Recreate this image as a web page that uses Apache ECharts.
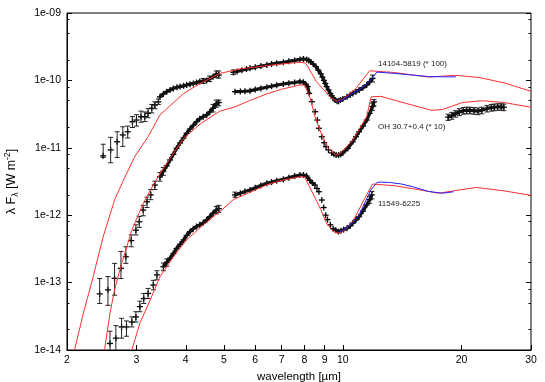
<!DOCTYPE html>
<html>
<head>
<meta charset="utf-8">
<script src="https://cdn.jsdelivr.net/npm/echarts@6/dist/echarts.min.js"></script>
<style>
html,body{margin:0;padding:0;background:#fff}
#chart{width:545px;height:382px}
</style>
</head>
<body>
<div id="chart"></div>
<script>
// axis ticks
const xTicks = [2, 3, 4, 5, 6, 7, 8, 9, 10, 20, 30];
const yDecades = [1e-14, 1e-13, 1e-12, 1e-11, 1e-10, 1e-9];
const yMinorSteps = [2, 5, 8];

// 14104-5819 (* 100)   points: [wavelength, flux, low, high]
const aBars = [
  [2.47, 7.6e-12, 7.2e-12, 1.13e-11], [2.58, 9.3e-12, 6.0e-12, 1.43e-11],
  [2.68, 1.23e-11, 7.2e-12, 1.73e-11], [2.77, 1.55e-11, 1.05e-11, 2.05e-11],
  [2.85, 1.73e-11, 1.4e-11, 2.1e-11], [2.93, 2.44e-11, 2.0e-11, 2.9e-11],
  [3.0, 2.58e-11, 2.1e-11, 3.1e-11], [3.08, 2.89e-11, 2.4e-11, 3.5e-11],
  [3.15, 2.9e-11, 2.45e-11, 3.4e-11], [3.21, 3.25e-11, 2.8e-11, 3.8e-11],
  [3.28, 3.86e-11, 3.3e-11, 4.4e-11], [3.34, 4.3e-11, 3.8e-11, 4.8e-11],
  [3.41, 4.8e-11, 4.4e-11, 5.3e-11]
];
const aBand1 = [
  [3.44, 5.7e-11], [3.51, 6.3e-11], [3.58, 6.8e-11], [3.65, 7.2e-11], [3.72, 7.6e-11],
  [3.8, 7.9e-11], [3.87, 8.1e-11], [3.95, 8.3e-11], [4.02, 8.55e-11], [4.1, 8.8e-11],
  [4.18, 9.0e-11], [4.26, 9.3e-11], [4.34, 9.6e-11], [4.43, 9.8e-11, 9.0e-11, 1.07e-10],
  [4.52, 1.0e-10], [4.6, 1.06e-10, 9.6e-11, 1.16e-10], [4.69, 1.13e-10],
  [4.78, 1.24e-10, 1.1e-10, 1.38e-10], [4.85, 1.2e-10, 1.08e-10, 1.38e-10]
];
const aBand2 = [
  [5.28, 1.32e-10, 1.22e-10, 1.42e-10], [5.4, 1.36e-10], [5.55, 1.42e-10], [5.7, 1.47e-10],
  [5.82, 1.51e-10], [6.0, 1.57e-10], [6.2, 1.63e-10], [6.42, 1.69e-10], [6.6, 1.75e-10],
  [6.8, 1.8e-10], [7.07, 1.86e-10], [7.3, 1.92e-10], [7.55, 1.98e-10], [7.79, 2.05e-10],
  [7.95, 2.08e-10], [8.1, 2.05e-10], [8.2, 1.98e-10], [8.3, 1.88e-10], [8.42, 1.75e-10],
  [8.55, 1.6e-10], [8.67, 1.42e-10], [8.8, 1.25e-10], [8.88, 1.12e-10], [8.96, 1.0e-10],
  [9.03, 9.0e-11], [9.1, 8.1e-11], [9.2, 7.2e-11], [9.3, 6.4e-11], [9.38, 5.9e-11],
  [9.47, 5.4e-11], [9.57, 5.1e-11], [9.67, 4.9e-11], [9.76, 4.9e-11], [9.86, 5.1e-11],
  [10.0, 5.3e-11], [10.25, 5.7e-11], [10.45, 6.1e-11], [10.6, 6.4e-11], [10.8, 6.8e-11],
  [11.0, 7.2e-11], [11.25, 7.8e-11], [11.5, 8.55e-11], [11.7, 9.5e-11],
  [11.9, 1.07e-10, 9.5e-11, 1.2e-10]
];
const aModel = [
  [2.09, 1.0e-14], [2.2, 3.5e-14], [2.33, 1.22e-13], [2.47, 4.8e-13], [2.64, 1.68e-12],
  [2.78, 3.3e-12], [2.97, 7.4e-12], [3.21, 1.46e-11], [3.44, 3.07e-11], [3.95, 6.4e-11],
  [4.35, 9.0e-11], [4.88, 1.27e-10], [5.5, 1.48e-10], [6.4, 1.65e-10], [7.0, 1.75e-10],
  [7.8, 1.86e-10], [8.05, 1.8e-10], [8.25, 1.43e-10], [8.57, 9.6e-11], [8.96, 7.2e-11],
  [9.3, 5.6e-11], [9.67, 4.9e-11], [10.0, 5.3e-11], [10.8, 7.6e-11], [11.7, 1.39e-10],
  [13.5, 1.31e-10], [16.5, 1.12e-10], [19.35, 1.19e-10], [22.25, 1.1e-10],
  [25.6, 9.2e-11], [30, 6.9e-11]
];
const aBlue = [
  [9.7, 4.8e-11], [10.0, 5.2e-11], [10.5, 6.2e-11], [11.0, 7.3e-11], [11.5, 8.8e-11],
  [11.9, 1.1e-10], [12.2, 1.33e-10], [13.5, 1.27e-10], [15.0, 1.2e-10], [16.5, 1.14e-10],
  [18.0, 1.13e-10], [19.35, 1.13e-10]
];

// OH 30.7+0.4 (* 10)
const bBars = [
  [2.42, 6.8e-14, 4.9e-14, 1.15e-13], [2.54, 7.8e-14, 4.6e-14, 1.23e-13],
  [2.64, 1.16e-13, 6.5e-14, 1.93e-13], [2.74, 1.63e-13, 1.15e-13, 2.9e-13],
  [2.82, 2.42e-13, 1.93e-13, 3.4e-13], [2.91, 4.2e-13, 3.4e-13, 5.1e-13],
  [2.99, 6.0e-13, 5.1e-13, 7.2e-13], [3.05, 8.0e-13, 6.6e-13, 9.6e-13],
  [3.12, 1.19e-12, 9.8e-13, 1.4e-12], [3.19, 1.58e-12, 1.3e-12, 1.85e-12],
  [3.26, 2.0e-12, 1.7e-12, 2.4e-12], [3.34, 2.8e-12, 2.4e-12, 3.2e-12]
];
const bBand1 = [
  [3.44, 3.7e-12, 3.2e-12, 4.3e-12], [3.51, 4.5e-12, 3.9e-12, 5.1e-12], [3.58, 5.4e-12],
  [3.65, 6.6e-12], [3.72, 8.0e-12], [3.79, 9.8e-12], [3.87, 1.18e-11], [3.95, 1.4e-11],
  [4.02, 1.64e-11], [4.1, 1.9e-11], [4.18, 2.15e-11], [4.26, 2.44e-11], [4.34, 2.7e-11],
  [4.43, 2.9e-11], [4.52, 3.07e-11], [4.6, 3.4e-11], [4.69, 3.86e-11, 3.4e-11, 4.4e-11],
  [4.78, 4.5e-11, 4.0e-11, 5.1e-11], [4.85, 4.7e-11, 4.2e-11, 5.1e-11]
];
const bBand2 = [
  [5.33, 6.8e-11], [5.5, 6.85e-11], [5.65, 6.9e-11], [5.82, 7.0e-11], [6.0, 7.3e-11],
  [6.2, 7.6e-11], [6.42, 7.9e-11], [6.6, 8.2e-11], [6.8, 8.5e-11], [7.07, 8.85e-11],
  [7.3, 9.1e-11], [7.55, 9.3e-11], [7.79, 9.6e-11], [7.95, 9.4e-11], [8.05, 8.8e-11],
  [8.15, 8.1e-11], [8.22, 6.4e-11]
];
const bDip = [
  [8.35, 4.83e-11], [8.51, 3.43e-11], [8.62, 2.58e-11], [8.7, 1.95e-11], [8.85, 1.46e-11],
  [8.97, 1.19e-11], [9.07, 1.04e-11], [9.2, 9.3e-12]
];
const bBand3 = [
  [9.37, 8.4e-12], [9.5, 8.0e-12], [9.62, 7.8e-12], [9.76, 7.8e-12], [9.88, 8.0e-12],
  [10.0, 8.4e-12], [10.3, 9.8e-12], [10.6, 1.23e-11], [10.8, 1.46e-11], [11.0, 1.73e-11],
  [11.25, 2.1e-11], [11.5, 2.58e-11], [11.7, 3.25e-11], [11.9, 4.1e-11, 3.6e-11, 4.6e-11],
  [12.0, 4.8e-11, 4.2e-11, 5.2e-11]
];
const bBand4 = [
  [18.5, 2.85e-11, 2.55e-11, 3.15e-11], [18.9, 3.0e-11, 2.65e-11, 3.35e-11],
  [19.3, 3.2e-11, 2.85e-11, 3.55e-11], [19.74, 3.4e-11, 3.0e-11, 3.8e-11],
  [20.2, 3.55e-11, 3.15e-11, 3.95e-11], [20.6, 3.6e-11, 3.2e-11, 4.0e-11],
  [21.0, 3.6e-11, 3.2e-11, 4.0e-11], [21.5, 3.55e-11, 3.15e-11, 3.95e-11],
  [22.0, 3.5e-11, 3.1e-11, 3.9e-11], [22.5, 3.6e-11, 3.2e-11, 4.0e-11],
  [23.2, 3.83e-11, 3.4e-11, 4.25e-11], [23.8, 3.95e-11, 3.5e-11, 4.4e-11],
  [24.2, 4.0e-11, 3.55e-11, 4.45e-11], [24.7, 4.05e-11, 3.6e-11, 4.5e-11],
  [25.2, 4.05e-11, 3.6e-11, 4.5e-11], [25.6, 4.0e-11, 3.55e-11, 4.45e-11]
];
const bModel = [
  [2.49, 1.0e-14], [2.57, 3.5e-14], [2.64, 7.8e-14], [2.75, 1.9e-13], [2.92, 6.0e-13],
  [3.12, 1.5e-12], [3.34, 3.1e-12], [3.65, 7.0e-12], [3.95, 1.38e-11], [4.35, 2.25e-11],
  [4.88, 3.5e-11], [5.3, 4.0e-11], [5.8, 5.0e-11], [6.42, 6.3e-11], [7.0, 7.4e-11],
  [7.79, 8.55e-11], [8.0, 8.55e-11], [8.25, 5.7e-11], [8.5, 2.9e-11], [8.85, 1.55e-11],
  [9.2, 9.8e-12], [9.6, 7.8e-12], [9.86, 8.3e-12], [10.6, 1.3e-11], [11.5, 2.9e-11],
  [11.8, 5.7e-11], [12.5, 5.8e-11], [13.5, 5.1e-11], [15.0, 4.3e-11], [16.8, 3.6e-11],
  [17.9, 3.7e-11], [20.1, 4.7e-11], [22.6, 5.0e-11], [25.6, 4.7e-11], [30, 4.0e-11]
];

// 11549-6225
const cBars = [
  [2.57, 1.25e-14, 7.0e-15, 1.9e-14], [2.66, 1.5e-14, 9.5e-15, 2.3e-14],
  [2.75, 2.2e-14, 1.5e-14, 2.95e-14], [2.83, 2.2e-14, 1.6e-14, 2.7e-14],
  [2.92, 2.6e-14, 2.2e-14, 3.1e-14], [2.99, 3.1e-14, 2.6e-14, 3.7e-14],
  [3.06, 4.4e-14, 3.7e-14, 5.3e-14], [3.13, 5.8e-14, 4.9e-14, 6.9e-14],
  [3.21, 6.9e-14, 5.8e-14, 8.2e-14], [3.31, 9.2e-14, 7.8e-14, 1.08e-13],
  [3.38, 1.3e-13, 1.1e-13, 1.5e-13]
];
const cBand1 = [
  [3.51, 1.72e-13, 1.5e-13, 1.95e-13], [3.58, 2.0e-13, 1.75e-13, 2.25e-13], [3.65, 2.3e-13],
  [3.72, 2.7e-13], [3.79, 3.2e-13], [3.87, 3.7e-13], [3.95, 4.3e-13], [4.02, 5.0e-13],
  [4.1, 5.7e-13], [4.18, 6.3e-13], [4.26, 6.8e-13], [4.34, 7.2e-13], [4.43, 7.7e-13],
  [4.52, 8.5e-13], [4.6, 9.5e-13], [4.69, 1.07e-12], [4.78, 1.19e-12, 1.05e-12, 1.35e-12],
  [4.85, 1.25e-12, 1.1e-12, 1.4e-12]
];
const cBand2 = [
  [5.33, 2.0e-12, 1.85e-12, 2.2e-12], [5.5, 2.12e-12], [5.65, 2.25e-12], [5.82, 2.37e-12],
  [6.0, 2.55e-12], [6.2, 2.75e-12], [6.42, 2.97e-12], [6.6, 3.1e-12], [6.8, 3.25e-12],
  [7.07, 3.4e-12], [7.3, 3.6e-12], [7.55, 3.8e-12], [7.79, 3.95e-12], [7.95, 3.95e-12],
  [8.1, 3.8e-12], [8.25, 3.3e-12], [8.38, 3.0e-12], [8.5, 2.8e-12]
];
const cDip = [
  [8.6, 2.5e-12], [8.7, 2.23e-12], [8.85, 1.68e-12], [8.95, 1.3e-12], [9.05, 1.0e-12],
  [9.15, 8.6e-13], [9.3, 7.2e-13]
];
const cBand3 = [
  [9.45, 6.3e-13], [9.6, 6.0e-13], [9.76, 5.7e-13], [9.9, 5.9e-13], [10.05, 6.1e-13],
  [10.25, 6.4e-13], [10.45, 7.0e-13], [10.6, 7.6e-13], [10.8, 8.5e-13], [11.0, 9.5e-13],
  [11.25, 1.15e-12], [11.5, 1.42e-12], [11.7, 1.7e-12, 1.5e-12, 1.9e-12],
  [11.85, 2.0e-12, 1.75e-12, 2.25e-12]
];
const cModel = [
  [2.92, 1.0e-14], [3.06, 2.5e-14], [3.25, 5.5e-14], [3.44, 1.22e-13], [3.72, 2.4e-13],
  [4.02, 4.3e-13], [4.43, 7.2e-13], [4.88, 1.13e-12], [5.28, 1.7e-12], [6.4, 2.8e-12],
  [7.0, 3.3e-12], [7.79, 3.7e-12], [8.0, 3.7e-12], [8.4, 2.1e-12], [8.8, 1.2e-12],
  [9.1, 7.6e-13], [9.47, 5.7e-13], [9.7, 5.4e-13], [10.0, 5.7e-13], [10.6, 8.0e-13],
  [11.2, 1.5e-12], [11.9, 2.9e-12], [13.5, 2.74e-12], [15.2, 2.45e-12], [17.5, 2.12e-12],
  [19.1, 2.3e-12], [21.8, 2.58e-12], [25.6, 2.3e-12], [30, 1.97e-12]
];
const cBlue = [
  [9.8, 5.6e-13], [10.2, 6.4e-13], [10.6, 7.8e-13], [11.0, 1.0e-12], [11.5, 1.75e-12],
  [11.8, 2.4e-12], [12.2, 3.05e-12], [12.5, 3.1e-12], [13.2, 3.05e-12], [14.1, 2.9e-12],
  [15.2, 2.6e-12], [16.5, 2.25e-12], [17.9, 2.12e-12], [19.1, 2.23e-12]
];

const starNames = ['14104-5819 (* 100)', 'OH 30.7+0.4 (* 10)', '11549-6225'];

const FONT = '"Liberation Sans", Arial, sans-serif';
const yMinor = [];
yDecades.slice(0, -1).forEach(d => yMinorSteps.forEach(m => yMinor.push(d * m)));

// plus sign + optional error bar for each point
function drawPoint(params, api) {
  const x = api.value(0), y = api.value(1);
  const p = api.coord([x, y]);
  const st = { stroke: '#000', lineWidth: 1.3 };
  const s = 3;
  const kids = [
    { type: 'line', shape: { x1: p[0] - s, y1: p[1], x2: p[0] + s, y2: p[1] }, style: st },
    { type: 'line', shape: { x1: p[0], y1: p[1] - s, x2: p[0], y2: p[1] + s }, style: st }
  ];
  const lo = api.value(2), hi = api.value(3);
  if (lo > 0 && hi > 0) {
    const a = api.coord([x, lo]), b = api.coord([x, hi]);
    const es = { stroke: '#222', lineWidth: 1 };
    kids.push({ type: 'line', shape: { x1: a[0], y1: a[1], x2: b[0], y2: b[1] }, style: es });
    kids.push({ type: 'line', shape: { x1: a[0] - 2.5, y1: a[1], x2: a[0] + 2.5, y2: a[1] }, style: es });
    kids.push({ type: 'line', shape: { x1: b[0] - 2.5, y1: b[1], x2: b[0] + 2.5, y2: b[1] }, style: es });
  }
  return { type: 'group', children: kids };
}

function points(data) {
  return {
    type: 'custom', data: data, renderItem: drawPoint, clip: true, silent: true,
    dimensions: ['wl', 'flux', 'lo', 'hi'], encode: { x: 0, y: 1 }
  };
}
function band(data) {
  return {
    type: 'line', data: data.map(d => [d[0], d[1]]), showSymbol: false, silent: true,
    lineStyle: { color: '#111', width: 3.2 }, clip: true, animation: false
  };
}
function curve(data, color) {
  return {
    type: 'line', data: data, showSymbol: false, silent: true, clip: true,
    lineStyle: { color: color, width: 1 }, animation: false
  };
}

const series = [];
[aBars, aBand1, aBand2, bBars, bBand1, bBand2, bDip, bBand3, bBand4,
 cBars, cBand1, cBand2, cDip, cBand3].forEach(d => series.push(points(d)));
[aBand1, aBand2, bBand1, bBand2, bBand3, bBand4, cBand1, cBand2, cBand3]
  .forEach(d => series.push(band(d)));
[aModel, bModel, cModel].forEach(d => series.push(curve(d, '#ff3030')));
[aBlue, cBlue].forEach(d => series.push(curve(d, '#2222ff')));

function yAxisDef(pos, ticks, len, labels) {
  return {
    type: 'log', logBase: 10, min: 1e-14, max: 1e-9, position: pos,
    axisLine: { show: labels, lineStyle: { color: '#000' } },
    axisTick: { show: true, inside: true, length: len, customValues: ticks,
      lineStyle: { color: '#000' } },
    axisLabel: { show: labels, customValues: yDecades, color: '#000', fontSize: 10.5,
      fontFamily: FONT, margin: 6,
      formatter: v => '1e-' + String(-Math.round(Math.log10(v))).padStart(2, '0') },
    splitLine: { show: false }
  };
}

const chart = echarts.init(document.getElementById('chart'), null, { renderer: 'canvas' });
const yMain = yAxisDef('left', yDecades, 5, true);
yMain.name = '{t|λ F}{s|λ}{t| [W m}{p|-2}{t|]}';
yMain.nameLocation = 'middle';
yMain.nameGap = 46;
yMain.nameRotate = 90;
yMain.nameTextStyle = {
  color: '#000', fontFamily: FONT, fontSize: 12.5,
  rich: {
    t: { fontSize: 12.5, fontFamily: FONT, color: '#000' },
    s: { fontSize: 8.5, fontFamily: FONT, color: '#000', padding: [8, 0, 0, 0] },
    p: { fontSize: 8.5, fontFamily: FONT, color: '#000', padding: [0, 0, 9, 0] }
  }
};

chart.setOption({
  animation: false,
  backgroundColor: '#fff',
  grid: { left: 67, right: 14, top: 13, bottom: 32, show: true, borderColor: '#000',
    borderWidth: 1, containLabel: false, outerBoundsMode: 'none' },
  xAxis: {
    type: 'log', logBase: 10, min: 2, max: 30,
    axisLine: { lineStyle: { color: '#000' } },
    axisTick: { inside: true, length: 5, customValues: xTicks, lineStyle: { color: '#000' } },
    axisLabel: { customValues: xTicks, color: '#000', fontSize: 10.5, fontFamily: FONT,
      margin: 5, formatter: v => String(Math.round(v)) },
    splitLine: { show: false },
    name: 'wavelength [µm]', nameLocation: 'middle', nameGap: 18,
    nameTextStyle: { color: '#000', fontSize: 11.5, fontFamily: FONT }
  },
  yAxis: [
    yMain,
    yAxisDef('left', yMinor, 2.5, false),
    yAxisDef('right', yDecades, 5, false),
    yAxisDef('right', yMinor, 2.5, false)
  ],
  graphic: [
    { type: 'text', left: 378, top: 60, style: { text: starNames[0], fontSize: 8, fontFamily: FONT, fill: '#222' } },
    { type: 'text', left: 378, top: 123, style: { text: starNames[1], fontSize: 8, fontFamily: FONT, fill: '#222' } },
    { type: 'text', left: 378, top: 200, style: { text: starNames[2], fontSize: 8, fontFamily: FONT, fill: '#222' } }
  ],
  series: series
});
</script>
</body>
</html>
